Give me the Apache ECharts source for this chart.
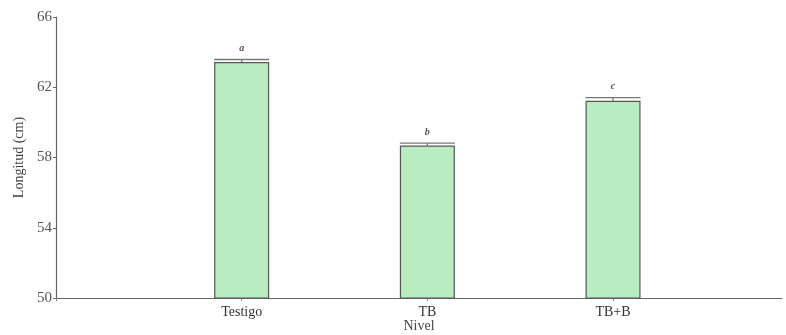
<!DOCTYPE html>
<html>
<head>
<meta charset="utf-8">
<script src="https://cdn.jsdelivr.net/npm/echarts@6/dist/echarts.min.js"></script>
<style>
  html, body { margin: 0; padding: 0; background: #fff; }
  #chart { width: 786px; height: 335px; }
</style>
</head>
<body>
<div id="chart"></div>
<script>
// Mean length per treatment level, with standard error and significance letters
const categories = ['Testigo', 'TB', 'TB+B'];
const means = [63.44, 58.68, 61.23];
const errors = [0.14, 0.14, 0.18];
const letters = ['a', 'b', 'c'];
const yTicks = [50, 54, 58, 62, 66];

const FONT = 'Liberation Serif';
const BAR_WIDTH = 55;

const chart = echarts.init(document.getElementById('chart'), null, { renderer: 'canvas' });

const barData = means.map((v, i) => [i + 1, v]);
const errData = means.map((v, i) => [i + 1, v, errors[i], letters[i]]);

chart.setOption({
  animation: false,
  grid: { left: 56, right: 4, top: 17, bottom: 37, containLabel: false, outerBoundsMode: 'none' },
  xAxis: {
    type: 'value',
    min: 0,
    max: 3.91,
    interval: 1,
    name: 'Nivel',
    nameLocation: 'middle',
    nameGap: 21,
    nameMoveOverlap: false,
    nameTextStyle: { fontFamily: FONT, fontSize: 14, color: '#444' },
    axisLine: { lineStyle: { color: '#666', width: 1.2 } },
    axisTick: { show: true, length: 3, lineStyle: { color: '#888' } },
    splitLine: { show: false },
    axisLabel: {
      showMaxLabel: false,
      margin: 7,
      fontFamily: FONT, fontSize: 14, color: '#333',
      formatter: (v) => categories[Math.round(v) - 1] || ''
    }
  },
  yAxis: {
    type: 'value',
    min: yTicks[0],
    max: yTicks[yTicks.length - 1],
    interval: 4,
    name: 'Longitud (cm)',
    nameLocation: 'middle',
    nameGap: 30,
    nameMoveOverlap: false,
    nameTextStyle: { fontFamily: FONT, fontSize: 14, color: '#444' },
    axisLine: { show: true, lineStyle: { color: '#666', width: 1.2 } },
    axisTick: { show: true, length: 3, lineStyle: { color: '#666' } },
    splitLine: { show: false },
    axisLabel: { margin: 4, fontFamily: FONT, fontSize: 15, color: '#555' }
  },
  series: [
    {
      type: 'bar',
      data: barData,
      barWidth: BAR_WIDTH,
      itemStyle: { color: '#b9ecc1', borderColor: '#555', borderWidth: 1.2 }
    },
    {
      // error bar caps with the significance letter above
      type: 'custom',
      data: errData,
      z: 5,
      renderItem: (params, api) => {
        const x = api.value(0);
        const mean = api.value(1);
        const err = api.value(2);
        const letter = letters[params.dataIndex];
        const base = api.coord([x, mean]);
        const top = api.coord([x, mean + err]);
        const half = BAR_WIDTH / 2;
        return {
          type: 'group',
          children: [
            {
              type: 'line',
              shape: { x1: top[0], y1: base[1], x2: top[0], y2: top[1] },
              style: { stroke: '#666', lineWidth: 1.2 }
            },
            {
              type: 'line',
              shape: { x1: top[0] - half, y1: top[1], x2: top[0] + half, y2: top[1] },
              style: { stroke: '#777', lineWidth: 1.4 }
            },
            {
              type: 'text',
              style: {
                x: top[0], y: top[1] - 11,
                text: letter,
                textAlign: 'center', textVerticalAlign: 'middle',
                font: 'italic bold 10px "' + FONT + '"',
                fill: '#555'
              }
            }
          ]
        };
      }
    }
  ]
});
</script>
</body>
</html>
